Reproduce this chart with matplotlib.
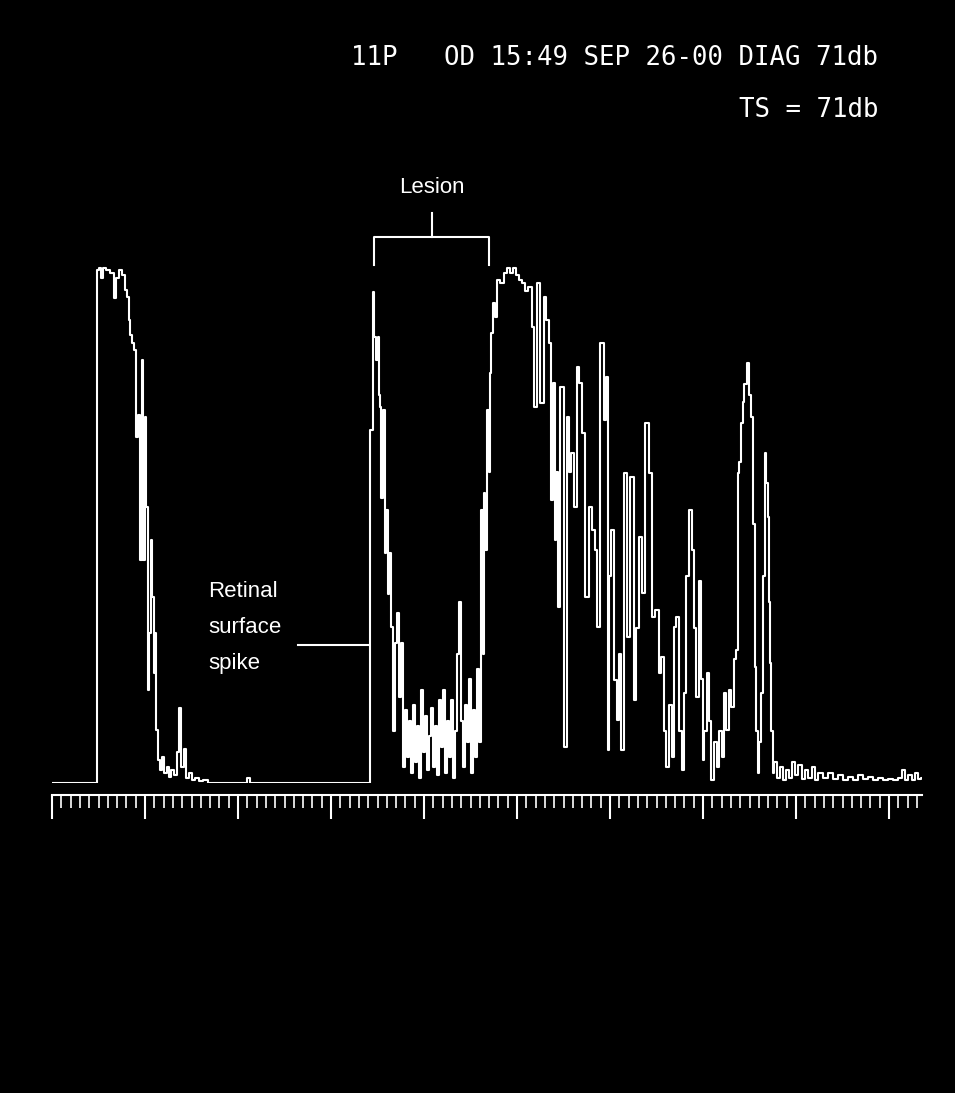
import matplotlib
matplotlib.use("Agg")
import matplotlib.pyplot as plt
import numpy as np
from matplotlib.ticker import MultipleLocator

# A-scan echo trace: depth (sample) and amplitude (% of saturation)
depth = [0, 44, 45, 48, 50, 52, 56, 60, 63, 65, 68, 71, 74, 76, 77, 79, 81, 83,
         85, 87, 89, 90, 92, 93, 95, 96, 98, 99, 101, 102, 103, 105, 107, 109,
         111, 113, 116, 118, 120, 123, 126, 128, 130, 133, 135, 138, 141, 145,
         148, 153, 158, 193, 196, 199, 317,
         318, 320, 321, 323, 325, 326, 327, 328, 330, 332, 333, 335, 336, 338,
         340, 342, 344, 346, 348, 350, 352, 354, 356, 358, 360, 362, 364, 366,
         368, 370, 372, 374, 376, 378, 380, 382, 384, 386, 388, 390, 392, 394,
         396, 398, 400, 402, 404, 406, 408, 410, 412, 414, 416, 418, 420, 422,
         424, 426, 428, 430, 431, 432, 434, 436, 437, 438, 440, 442, 444, 446,
         450, 453, 456, 459, 462, 465, 468, 471, 474,
         478, 481, 483, 486, 490, 493, 495, 498, 500, 502, 503, 505, 506, 510,
         513, 516, 518, 520, 523, 526, 528, 531, 535, 538, 541, 544, 546, 550,
         553, 555, 556, 558, 560, 563, 566, 568, 570, 573, 576, 580, 583, 585,
         588, 591, 595, 598, 601, 605, 608, 610, 613, 615, 618, 621, 623, 625,
         628, 631, 633, 635, 638, 641, 643, 645, 648, 650, 651, 653, 656, 658,
         660, 663, 666, 668, 671, 673, 675, 678, 680, 683, 685, 686, 688, 690,
         691, 693, 696, 698, 700, 702, 703, 705, 706, 708, 710, 712, 713, 715,
         716, 717, 718, 720, 721, 723, 726,
         729, 732, 735, 738, 741, 744, 748, 751, 754, 758, 761, 764, 768, 773,
         778, 783, 788, 793, 798, 803, 808, 813, 818, 823, 828, 833, 838, 843,
         848, 851, 854, 858, 861, 864, 868, 870]
amplitude = [0, 0, 99.0, 99.4, 97.5, 99.4, 99.0, 98.5, 93.6, 97.5, 99.0, 98.1,
             95.2, 93.8, 89.4, 86.5, 84.9, 83.6, 66.8, 71.0, 43.1, 81.7, 43.1,
             70.7, 53.3, 18.0, 29.0, 46.9, 36.0, 21.2, 29.0, 10.2, 4.4, 2.5,
             5.0, 1.9, 3.1, 1.2, 2.5, 1.5, 6.0, 14.5, 3.0, 6.5, 1.0, 2.0, 0.6,
             1.0, 0.4, 0.6, 0, 0, 1.0, 0, 0,
             68.1, 68.1, 94.8, 86.1, 81.7, 86.1, 75.0, 72.6, 55.0, 72.0, 44.4,
             52.7, 36.5, 44.4, 30.1, 10.0, 27.0, 32.8, 16.6, 27.0, 3.0, 14.0,
             5.0, 12.0, 2.0, 15.0, 4.0, 11.0, 1.0, 18.0, 6.0, 13.0, 2.5, 9.0,
             14.5, 3.0, 11.0, 1.5, 16.0, 7.0, 18.0, 2.0, 12.0, 5.0, 16.0, 1.0,
             10.0, 25.0, 35.0, 12.0, 3.0, 15.0, 8.0, 20.0, 2.0, 14.0, 5.0, 22.0,
             8.0, 52.7, 25.0, 56.0, 45.0, 72.0, 60.0, 79.2, 86.9, 92.7, 90.0,
             97.1, 96.5, 98.5, 99.4, 98.5, 99.4, 98.1, 97.1, 96.5, 95.0,
             95.8, 88.0, 72.6, 96.5, 73.4, 93.8, 89.4, 85.0, 54.6, 77.2, 46.9,
             60.0, 34.0, 76.4, 6.9, 70.7, 60.0, 63.7, 53.3, 80.3, 77.2, 67.6,
             35.9, 53.3, 48.8, 45.0, 30.1, 84.9, 70.0, 78.4, 6.4, 40.0, 48.8,
             19.9, 12.2, 25.0, 6.4, 59.8, 28.2, 59.1, 16.0, 30.0, 47.5, 36.7,
             69.5, 59.8, 32.0, 33.4, 21.2, 24.3, 10.0, 3.1, 15.0, 5.0, 30.1,
             32.0, 10.0, 2.5, 17.4, 40.0, 52.7, 45.0, 30.0, 16.6, 39.0, 20.0,
             4.4, 10.0, 21.2, 12.0, 0.6, 8.0, 3.0, 10.0, 5.0, 17.4, 10.2, 18.0,
             14.7, 24.0, 25.7, 59.8, 62.0, 69.5, 73.6, 77.0, 81.1, 75.0, 70.7,
             50.0, 22.4, 10.0, 1.9, 8.0, 17.4, 40.0, 63.7, 58.0, 51.4, 35.0,
             23.2, 10.0, 1.9, 4.0, 1.0,
             3.0, 0.6, 2.5, 1.0, 4.0, 1.5, 3.5, 0.8, 2.5, 1.0, 3.0, 0.5, 2.0,
             1.0, 2.0, 0.8, 1.5, 0.6, 1.2, 0.5, 1.5, 0.8, 1.2, 0.5, 1.0, 0.6,
             0.8, 0.5, 1.0, 2.5, 0.6, 1.5, 0.5, 2.0, 0.8, 1.0]

header = "11P   OD 15:49 SEP 26-00 DIAG 71db"
gain_text = "TS = 71db"

# annotation anchors (depth samples / amplitude)
spike_depth = 318
lesion_start = 322
lesion_end = 437

fig = plt.figure(figsize=(9.55, 10.93), dpi=100, facecolor='black')
ax = fig.add_axes([52/955, 1 - 783/1093, 870/955, 518/1093])
ax.set_facecolor('black')

ax.plot(depth, amplitude, color='white', lw=1.5, drawstyle='steps-mid')

ax.set_xlim(0, 870)
ax.set_ylim(0, 100)

for s in ['top', 'left', 'right']:
    ax.spines[s].set_visible(False)
ax.spines['bottom'].set_color('white')
ax.spines['bottom'].set_linewidth(1.5)
ax.spines['bottom'].set_position(('outward', 8.6))
ax.set_yticks([])
ax.xaxis.set_major_locator(MultipleLocator(93))
ax.xaxis.set_minor_locator(MultipleLocator(9.3))
ax.tick_params(axis='x', which='major', direction='out', length=17, width=1.5,
               color='white', labelbottom=False)
ax.tick_params(axis='x', which='minor', direction='out', length=9, width=1.2,
               color='white')

# lesion bracket
ax.plot([lesion_start, lesion_start, lesion_end, lesion_end],
        [100, 105.4, 105.4, 100], color='white', lw=1.5, clip_on=False)
mid = (lesion_start + lesion_end) / 2
ax.plot([mid, mid], [105.4, 110], color='white', lw=1.5, clip_on=False)
ax.text(mid, 115, "Lesion", color='white', fontsize=16, ha='center', va='center',
        family='Liberation Sans')

# retinal surface spike label
ax.text(156, 30, "Retinal\nsurface\nspike", color='white', fontsize=16,
        ha='left', va='center', linespacing=1.95, family='Liberation Sans')
ax.plot([246, spike_depth - 1], [26.6, 26.6], color='white', lw=1.5)

fig.text(878/955, 1 - 58/1093, header, color='white', fontsize=18.5,
         family='DejaVu Sans Mono', ha='right', va='center')
fig.text(878/955, 1 - 110/1093, gain_text, color='white', fontsize=18.5,
         family='DejaVu Sans Mono', ha='right', va='center')

fig.savefig('out.png', dpi=100, facecolor='black')
